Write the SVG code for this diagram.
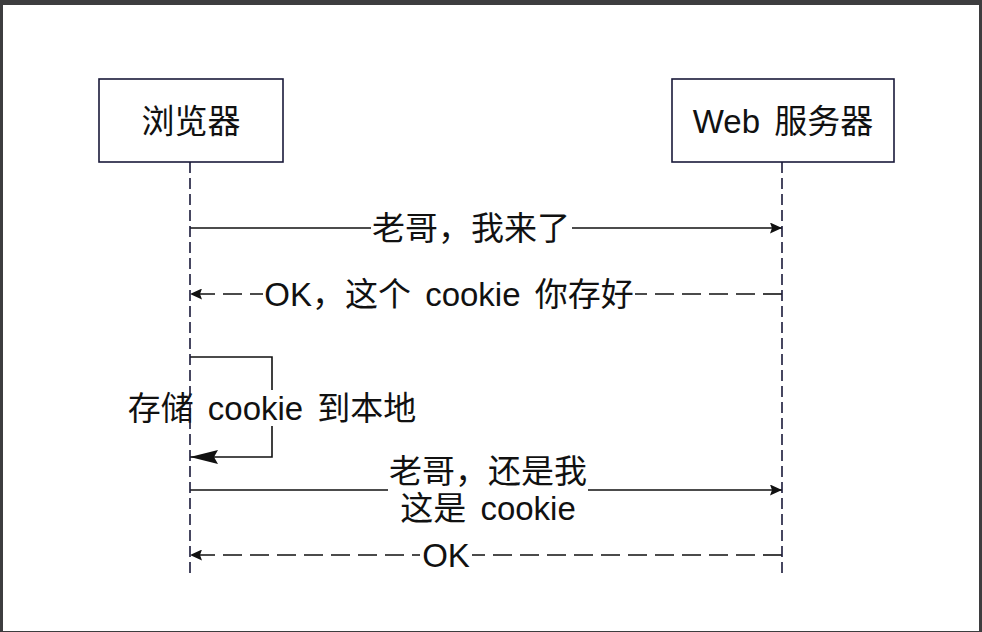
<svg xmlns="http://www.w3.org/2000/svg" width="982" height="632" viewBox="0 0 982 632">
<style>
.t{font-family:"Liberation Sans","Noto Sans CJK SC",sans-serif;font-size:33px;fill:#111;text-anchor:middle;dominant-baseline:central;word-spacing:5px}
.box{fill:#fff;stroke:#1a1a3a;stroke-width:1.6}
.life{stroke:#1a1a3a;stroke-width:1.6;stroke-dasharray:11 5;fill:none}
.msg{stroke:#111;stroke-width:1.6;fill:none}
.dash{stroke-dasharray:19 8}
.bg{fill:#fff}
</style>
<defs>
<marker id="arr" viewBox="0 0 12 11" refX="12" refY="5.5" markerWidth="12" markerHeight="11" markerUnits="userSpaceOnUse" orient="auto">
<path d="M0,0 L12,5.5 L0,11 L2,5.5 Z" fill="#111"/>
</marker>
<marker id="big" viewBox="0 0 28 14" refX="28" refY="7" markerWidth="28" markerHeight="14" markerUnits="userSpaceOnUse" orient="auto">
<path d="M0,0 L28,7 L0,14 L4,7 Z" fill="#111"/>
</marker>
</defs>
<rect x="0" y="0" width="982" height="632" fill="#3d3d3f"/>
<rect x="3" y="5" width="976" height="626" fill="#fff"/>
<g id="connectors">
<line class="msg" x1="190" y1="228" x2="782" y2="228" marker-end="url(#arr)"/>
<rect class="bg" x="371" y="212" width="201" height="32"/>
<text class="t" x="471" y="228">老哥，我来了</text>
<line class="msg dash" x1="782" y1="294" x2="190" y2="294" marker-end="url(#arr)"/>
<rect class="bg" x="263" y="278" width="372" height="32"/>
<text class="t" x="449" y="294">OK，这个 cookie 你存好</text>
<polyline class="msg" points="190,357 272,357 272,457 190,457" marker-end="url(#big)"/>
<rect class="bg" x="124" y="390" width="295" height="36"/>
<text class="t" x="272" y="408">存储 cookie 到本地</text>
<line class="msg" x1="190" y1="490" x2="782" y2="490" marker-end="url(#arr)"/>
<rect class="bg" x="388" y="455" width="200" height="70"/>
<text class="t" x="488" y="471">老哥，还是我</text>
<text class="t" x="488" y="508">这是 cookie</text>
<line class="msg dash" x1="782" y1="555" x2="190" y2="555" marker-end="url(#arr)"/>
<rect class="bg" x="420" y="540" width="52" height="30"/>
<text class="t" x="446" y="555">OK</text>
</g>
<g id="browser">
<rect class="box" x="99" y="79" width="184" height="83"/>
<text class="t" x="191" y="121">浏览器</text>
<line class="life" x1="190" y1="162" x2="190" y2="578"/>
</g>
<g id="server">
<rect class="box" x="672" y="79" width="222" height="83"/>
<text class="t" x="783" y="121">Web 服务器</text>
<line class="life" x1="782" y1="162" x2="782" y2="578"/>
</g>
</svg>
